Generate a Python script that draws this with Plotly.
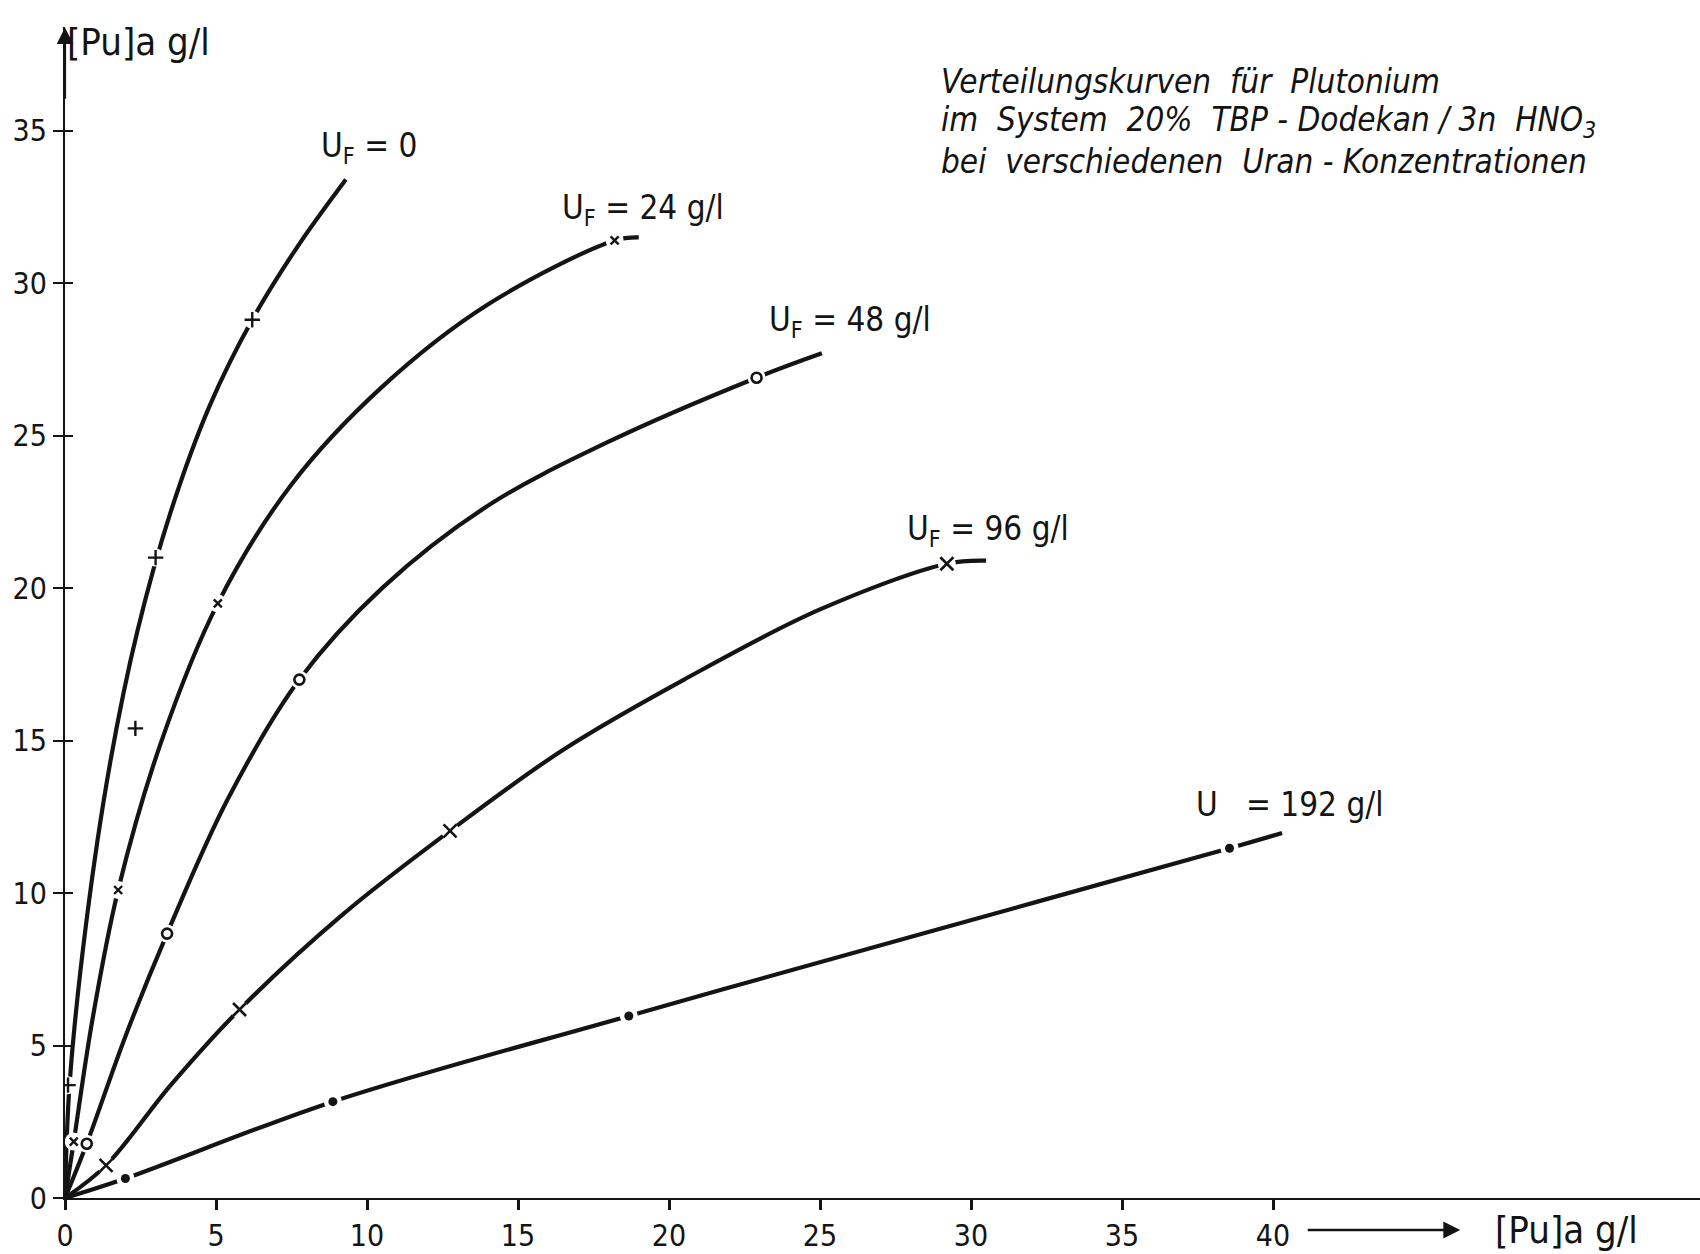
import plotly.graph_objects as go

# ---------------- data ----------------
# UF = 0
uf0_curve_x = [0, 0.15, 0.7, 1.5, 2.4, 3.5, 4.8, 6.2, 7.7, 9.3]
uf0_curve_y = [0, 3.7, 9.0, 14.3, 18.6, 22.5, 26.0, 28.8, 31.2, 33.4]
uf0_pts_x = [0.1, 2.33, 3.0, 6.2]
uf0_pts_y = [3.7, 15.4, 21.0, 28.8]

# UF = 24 g/l
uf24_curve_x = [0, 0.29, 0.9, 1.76, 3.2, 5.06, 7.5, 10.5, 14.0, 18.2, 19.0]
uf24_curve_y = [0, 1.85, 5.8, 10.1, 15.0, 19.5, 23.4, 26.6, 29.3, 31.4, 31.5]
uf24_pts_x = [0.29, 1.76, 5.06, 18.2]
uf24_pts_y = [1.85, 10.1, 19.5, 31.4]

# UF = 48 g/l
uf48_curve_x = [0, 0.72, 2.0, 3.38, 5.4, 7.76, 10.5, 14.0, 18.0, 22.9, 25.06]
uf48_curve_y = [0, 1.78, 5.3, 8.67, 13.1, 17.0, 20.0, 22.7, 24.8, 26.9, 27.7]
uf48_pts_x = [0.72, 3.38, 7.76, 22.9]
uf48_pts_y = [1.78, 8.67, 17.0, 26.9]

# UF = 96 g/l
uf96_curve_x = [0, 1.36, 3.5, 5.78, 9.2, 12.75, 16.5, 20.5, 25.0, 29.2, 30.5]
uf96_curve_y = [0, 1.07, 3.7, 6.18, 9.3, 12.04, 14.7, 17.0, 19.3, 20.8, 20.9]
uf96_pts_x = [1.36, 5.78, 12.75, 29.2]
uf96_pts_y = [1.07, 6.18, 12.04, 20.8]

# U = 192 g/l
u192_curve_x = [0, 2.0, 8.87, 18.67, 28.5, 38.56, 40.3]
u192_curve_y = [0, 0.64, 3.16, 5.97, 8.7, 11.47, 11.97]
u192_pts_x = [2.0, 8.87, 18.67, 38.56]
u192_pts_y = [0.64, 3.16, 5.97, 11.47]

tick_vals_x = [0, 5, 10, 15, 20, 25, 30, 35, 40]
tick_vals_y = [0, 5, 10, 15, 20, 25, 30, 35]

curve_labels = ["U<sub>F</sub> = 0", "U<sub>F</sub> = 24 g/l", "U<sub>F</sub> = 48 g/l",
                "U<sub>F</sub> = 96 g/l", "U   = 192 g/l"]
label_x = [8.4, 16.4, 23.25, 27.8, 37.4]
label_y = [34.45, 32.4, 28.75, 21.9, 12.9]

title_lines = ["Verteilungskurven  für  Plutonium",
               "im  System  20%  TBP - Dodekan / 3n  HNO<sub>3</sub>",
               "bei  verschiedenen  Uran - Konzentrationen"]
title_y = [36.6, 35.3, 34.0]

axis_label = "[Pu]a g/l"

# ---------------- styling ----------------
INK = "#141414"
FONT = "DejaVu Sans Condensed, Liberation Sans Narrow, DejaVu Sans, sans-serif"
LW = 4.2

W, H = 1700, 1254
ML, MT, MB, MR = 65, 27, 56, 0
PLOT_H = H - MT - MB
PX_PER_X = 30.2
X_MAX = (W - ML - MR) / PX_PER_X

fig = go.Figure()

curves = [
    (uf0_curve_x, uf0_curve_y),
    (uf24_curve_x, uf24_curve_y),
    (uf48_curve_x, uf48_curve_y),
    (uf96_curve_x, uf96_curve_y),
    (u192_curve_x, u192_curve_y),
]
for cx, cy in curves:
    fig.add_trace(go.Scatter(x=cx, y=cy, mode="lines",
                             line=dict(color=INK, width=LW, shape="spline", smoothing=1.0),
                             hoverinfo="skip", showlegend=False))

pts = [
    (uf0_pts_x, uf0_pts_y, "cross-thin", 11, 2.4),
    (uf24_pts_x, uf24_pts_y, "x-thin", 8, 2.4),
    (uf48_pts_x, uf48_pts_y, "circle-open", 10, 2.6),
    (uf96_pts_x, uf96_pts_y, "x-thin", 13, 2.6),
    (u192_pts_x, u192_pts_y, "circle", 9, 0),
]
# white gaps around data points
for px, py, *_ in pts:
    fig.add_trace(go.Scatter(x=px, y=py, mode="markers",
                             marker=dict(symbol="circle", size=18, color="white"),
                             hoverinfo="skip", showlegend=False))
for px, py, sym, sz, lw in pts:
    fig.add_trace(go.Scatter(x=px, y=py, mode="markers",
                             marker=dict(symbol=sym, size=sz, color=INK,
                                         line=dict(color=INK, width=lw)),
                             showlegend=False))

# invisible trace on overlay axis so inner tick marks are drawn
fig.add_trace(go.Scatter(x=[0], y=[0], yaxis="y2", mode="markers",
                         marker=dict(opacity=0), hoverinfo="skip", showlegend=False))

annotations = []
for t, lx, ly in zip(curve_labels, label_x, label_y):
    annotations.append(dict(x=lx, y=ly, xref="x", yref="y", text=t, showarrow=False,
                            xanchor="left", yanchor="middle",
                            font=dict(family=FONT, size=33, color=INK)))
for t, ty in zip(title_lines, title_y):
    annotations.append(dict(x=28.95, y=ty, xref="x", yref="y", text="<i>" + t + "</i>",
                            showarrow=False, xanchor="left", yanchor="middle",
                            font=dict(family=FONT, size=33, color=INK)))

# y axis arrow + label
annotations.append(dict(x=0, y=38.38, xref="x", yref="y", ax=0, ay=36.0, axref="x", ayref="y",
                        showarrow=True, arrowhead=2, arrowsize=1.5, arrowwidth=2.2,
                        arrowcolor=INK, text=""))
annotations.append(dict(x=0.0, y=37.9, xref="x", yref="y", text=axis_label, showarrow=False,
                        xanchor="left", yanchor="middle",
                        font=dict(family=FONT, size=38, color=INK)))
# x axis arrow + label (below the axis, next to the tick labels)
lab_y_paper = -32 / PLOT_H
annotations.append(dict(x=46.2, y=lab_y_paper, xref="x", yref="paper",
                        ax=-(46.2 - 41.1) * PX_PER_X, ay=0, axref="pixel", ayref="pixel",
                        showarrow=True, arrowhead=2, arrowsize=1.3, arrowwidth=2.6,
                        arrowcolor=INK, text=""))
annotations.append(dict(x=47.3, y=lab_y_paper, xref="x", yref="paper", text=axis_label,
                        showarrow=False, xanchor="left", yanchor="middle",
                        font=dict(family=FONT, size=38, color=INK)))

fig.update_layout(
    width=W, height=H,
    margin=dict(l=ML, r=MR, t=MT, b=MB, autoexpand=False),
    paper_bgcolor="white", plot_bgcolor="white",
    annotations=annotations,
    showlegend=False,
    yaxis2=dict(overlaying="y", matches="y", side="left", showline=False, showgrid=False,
                zeroline=False, showticklabels=False, tickvals=tick_vals_y,
                ticks="inside", ticklen=8, tickwidth=2, tickcolor=INK),
)
fig.update_xaxes(range=[0, X_MAX], tickvals=tick_vals_x, ticktext=[str(v) for v in tick_vals_x],
                 showgrid=False, zeroline=False, showline=True, linecolor=INK, linewidth=2.2,
                 ticks="outside", ticklen=10, tickwidth=2.6, tickcolor=INK,
                 tickfont=dict(family=FONT, size=30, color=INK))
fig.update_layout(yaxis=dict(range=[0, 38.4], tickvals=tick_vals_y,
                             ticktext=[str(v) for v in tick_vals_y],
                             showgrid=False, zeroline=False, showline=True, linecolor=INK,
                             linewidth=2.2, ticks="outside", ticklen=10, tickwidth=2,
                             tickcolor=INK, tickfont=dict(family=FONT, size=30, color=INK)))

# remove the default 8px page margin so the figure fills the window exactly
fig.write_html("out.html",
               config={"displayModeBar": False},
               post_script="document.body.style.margin='0';document.body.style.overflow='hidden';")
